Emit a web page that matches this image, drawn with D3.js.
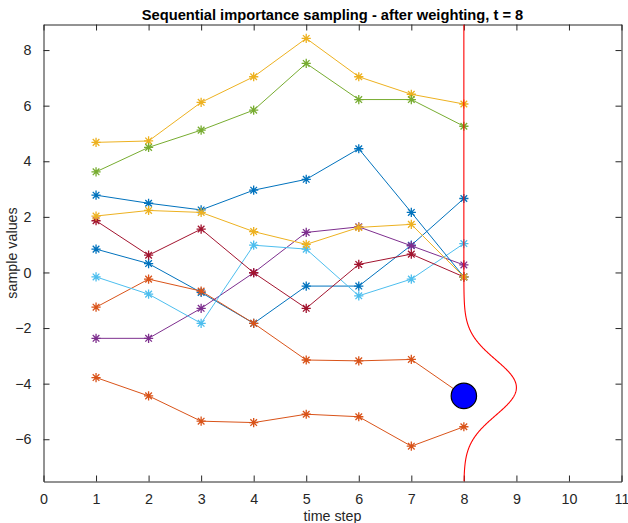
<!DOCTYPE html>
<html>
<head>
<meta charset="utf-8">
<script src="https://cdn.jsdelivr.net/npm/d3@7/dist/d3.min.js"></script>
<style>
  html, body { margin: 0; padding: 0; background: #fff; }
  svg { display: block; font-family: "Liberation Sans", Arial, sans-serif; }
</style>
</head>
<body>
<svg id="chart" width="628" height="523"></svg>
<script>
// Particle trajectories over time steps 1..8
const timeSteps = [1, 2, 3, 4, 5, 6, 7, 8];

const particle1  = [0.84, 0.32, -0.72, -1.83, -0.49, -0.49, 0.98, 2.66];
const particle2  = [-1.25, -0.24, -0.67, -1.83, -3.15, -3.18, -3.13, -4.44];
const particle3  = [4.68, 4.73, 6.12, 7.04, 8.42, 7.04, 6.41, 6.06];
const particle4  = [-2.37, -2.37, -1.29, -0.01, 1.44, 1.64, 0.96, 0.27];
const particle5  = [3.62, 4.50, 5.12, 5.84, 7.52, 6.22, 6.22, 5.26];
const particle6  = [-0.16, -0.78, -1.83, 0.98, 0.84, -0.84, -0.24, 1.04];
const particle7  = [1.86, 0.62, 1.56, -0.01, -1.29, 0.29, 0.66, -0.16];
const particle8  = [2.78, 2.49, 2.25, 2.96, 3.35, 4.45, 2.16, -0.16];
const particle9  = [-3.78, -4.44, -5.35, -5.40, -5.10, -5.19, -6.25, -5.55];
const particle10 = [2.03, 2.23, 2.16, 1.47, 1.01, 1.62, 1.73, -0.16];

const particles = [particle1, particle2, particle3, particle4, particle5,
                   particle6, particle7, particle8, particle9, particle10];

// Default line colour order, cycling
const colorOrder = ["#0072BD", "#D95319", "#EDB120", "#7E2F8E",
                    "#77AC30", "#4DBEEE", "#A2142F"];

// Likelihood at the current step, drawn sideways from x = t
const currentStep = 8;
const likelihoodMean = -4.14;
const likelihoodSigma = 1.0;

// Highest-weight particle at the current step
const bestParticle = { t: 8, value: -4.44 };

const xTicks = [0, 1, 2, 3, 4, 5, 6, 7, 8, 9, 10, 11];
const yTicks = [-6, -4, -2, 0, 2, 4, 6, 8];
const xDomain = [0, 11];
const yDomain = [-7.52, 8.92];

const titleText = "Sequential importance sampling - after weighting, t = 8";
const xLabelText = "time step";
const yLabelText = "sample values";

const svg = d3.select("#chart");
const plotLeft = 43.5, plotRight = 621.5, plotTop = 24.5, plotBottom = 481.5;
const axisColor = "#262626";

const x = d3.scaleLinear().domain(xDomain).range([plotLeft, plotRight]);
const y = d3.scaleLinear().domain(yDomain).range([plotBottom, plotTop]);

// Axes with inward ticks on all four sides
const tickLen = 6;
const fontFamily = "Liberation Sans, Arial, sans-serif";
svg.append("g").attr("transform", `translate(0,${plotBottom})`)
  .call(d3.axisBottom(x).tickValues(xTicks).tickSizeInner(-tickLen).tickSizeOuter(0).tickPadding(12))
  .call(g => g.select(".domain").attr("stroke", axisColor))
  .call(g => g.selectAll(".tick line").attr("stroke", axisColor))
  .call(g => g.selectAll(".tick text").attr("fill", axisColor).attr("font-size", 14.3).attr("font-family", fontFamily));

svg.append("g").attr("transform", `translate(0,${plotTop})`)
  .call(d3.axisTop(x).tickValues(xTicks).tickSizeInner(-tickLen).tickSizeOuter(0).tickFormat(""))
  .call(g => g.select(".domain").attr("stroke", axisColor))
  .call(g => g.selectAll(".tick line").attr("stroke", axisColor));

svg.append("g").attr("transform", `translate(${plotLeft},0)`)
  .call(d3.axisLeft(y).tickValues(yTicks).tickSizeInner(-tickLen).tickSizeOuter(0).tickPadding(12))
  .call(g => g.select(".domain").attr("stroke", axisColor))
  .call(g => g.selectAll(".tick line").attr("stroke", axisColor))
  .call(g => g.selectAll(".tick text").attr("fill", axisColor).attr("font-size", 14.3).attr("font-family", fontFamily));

svg.append("g").attr("transform", `translate(${plotRight},0)`)
  .call(d3.axisRight(y).tickValues(yTicks).tickSizeInner(-tickLen).tickSizeOuter(0).tickFormat(""))
  .call(g => g.select(".domain").attr("stroke", axisColor))
  .call(g => g.selectAll(".tick line").attr("stroke", axisColor));

// Clip region for the plot contents
svg.append("clipPath").attr("id", "plotClip")
  .append("rect").attr("x", plotLeft).attr("y", plotTop)
  .attr("width", plotRight - plotLeft).attr("height", plotBottom - plotTop);

const plot = svg.append("g").attr("clip-path", "url(#plotClip)");

const line = d3.line().x((d, i) => x(timeSteps[i])).y(d => y(d));

// Asterisk marker: plus and cross overlaid
const r = 4.6, rd = r * 0.72;
const asterisk = `M${-r},0L${r},0M0,${-r}L0,${r}M${-rd},${-rd}L${rd},${rd}M${-rd},${rd}L${rd},${-rd}`;

particles.forEach((vals, k) => {
  const c = colorOrder[k % colorOrder.length];
  const g = plot.append("g");
  g.append("path").datum(vals).attr("d", line)
    .attr("fill", "none").attr("stroke", c).attr("stroke-width", 1);
  g.selectAll("path.mk").data(vals).join("path").attr("class", "mk")
    .attr("d", asterisk)
    .attr("transform", (d, i) => `translate(${x(timeSteps[i])},${y(d)})`)
    .attr("fill", "none").attr("stroke", c).attr("stroke-width", 1.3);
});

// Likelihood curve, peak scaled to one time-step unit
const ys = d3.range(yDomain[0], yDomain[1] + 0.001, 0.02);
const curve = ys.map(v => [currentStep + Math.exp(-0.5 * ((v - likelihoodMean) / likelihoodSigma) ** 2), v]);
plot.append("path").datum(curve)
  .attr("d", d3.line().x(d => x(d[0])).y(d => y(d[1])))
  .attr("fill", "none").attr("stroke", "#FF0000").attr("stroke-width", 1.1);

plot.append("circle")
  .attr("cx", x(bestParticle.t)).attr("cy", y(bestParticle.value)).attr("r", 12.7)
  .attr("fill", "#0000FF").attr("stroke", "#000").attr("stroke-width", 1.2);

// Title and axis labels
svg.append("text").attr("x", (plotLeft + plotRight) / 2).attr("y", 19.5)
  .attr("text-anchor", "middle").attr("font-weight", "bold").attr("font-size", 14.7)
  .attr("fill", "#000").text(titleText);

svg.append("text").attr("x", (plotLeft + plotRight) / 2).attr("y", 521)
  .attr("text-anchor", "middle").attr("font-size", 14.3).attr("fill", axisColor).text(xLabelText);

svg.append("text").attr("transform", `translate(17,${(plotTop + plotBottom) / 2}) rotate(-90)`)
  .attr("text-anchor", "middle").attr("font-size", 14.3).attr("fill", axisColor).text(yLabelText);
</script>
</body>
</html>
